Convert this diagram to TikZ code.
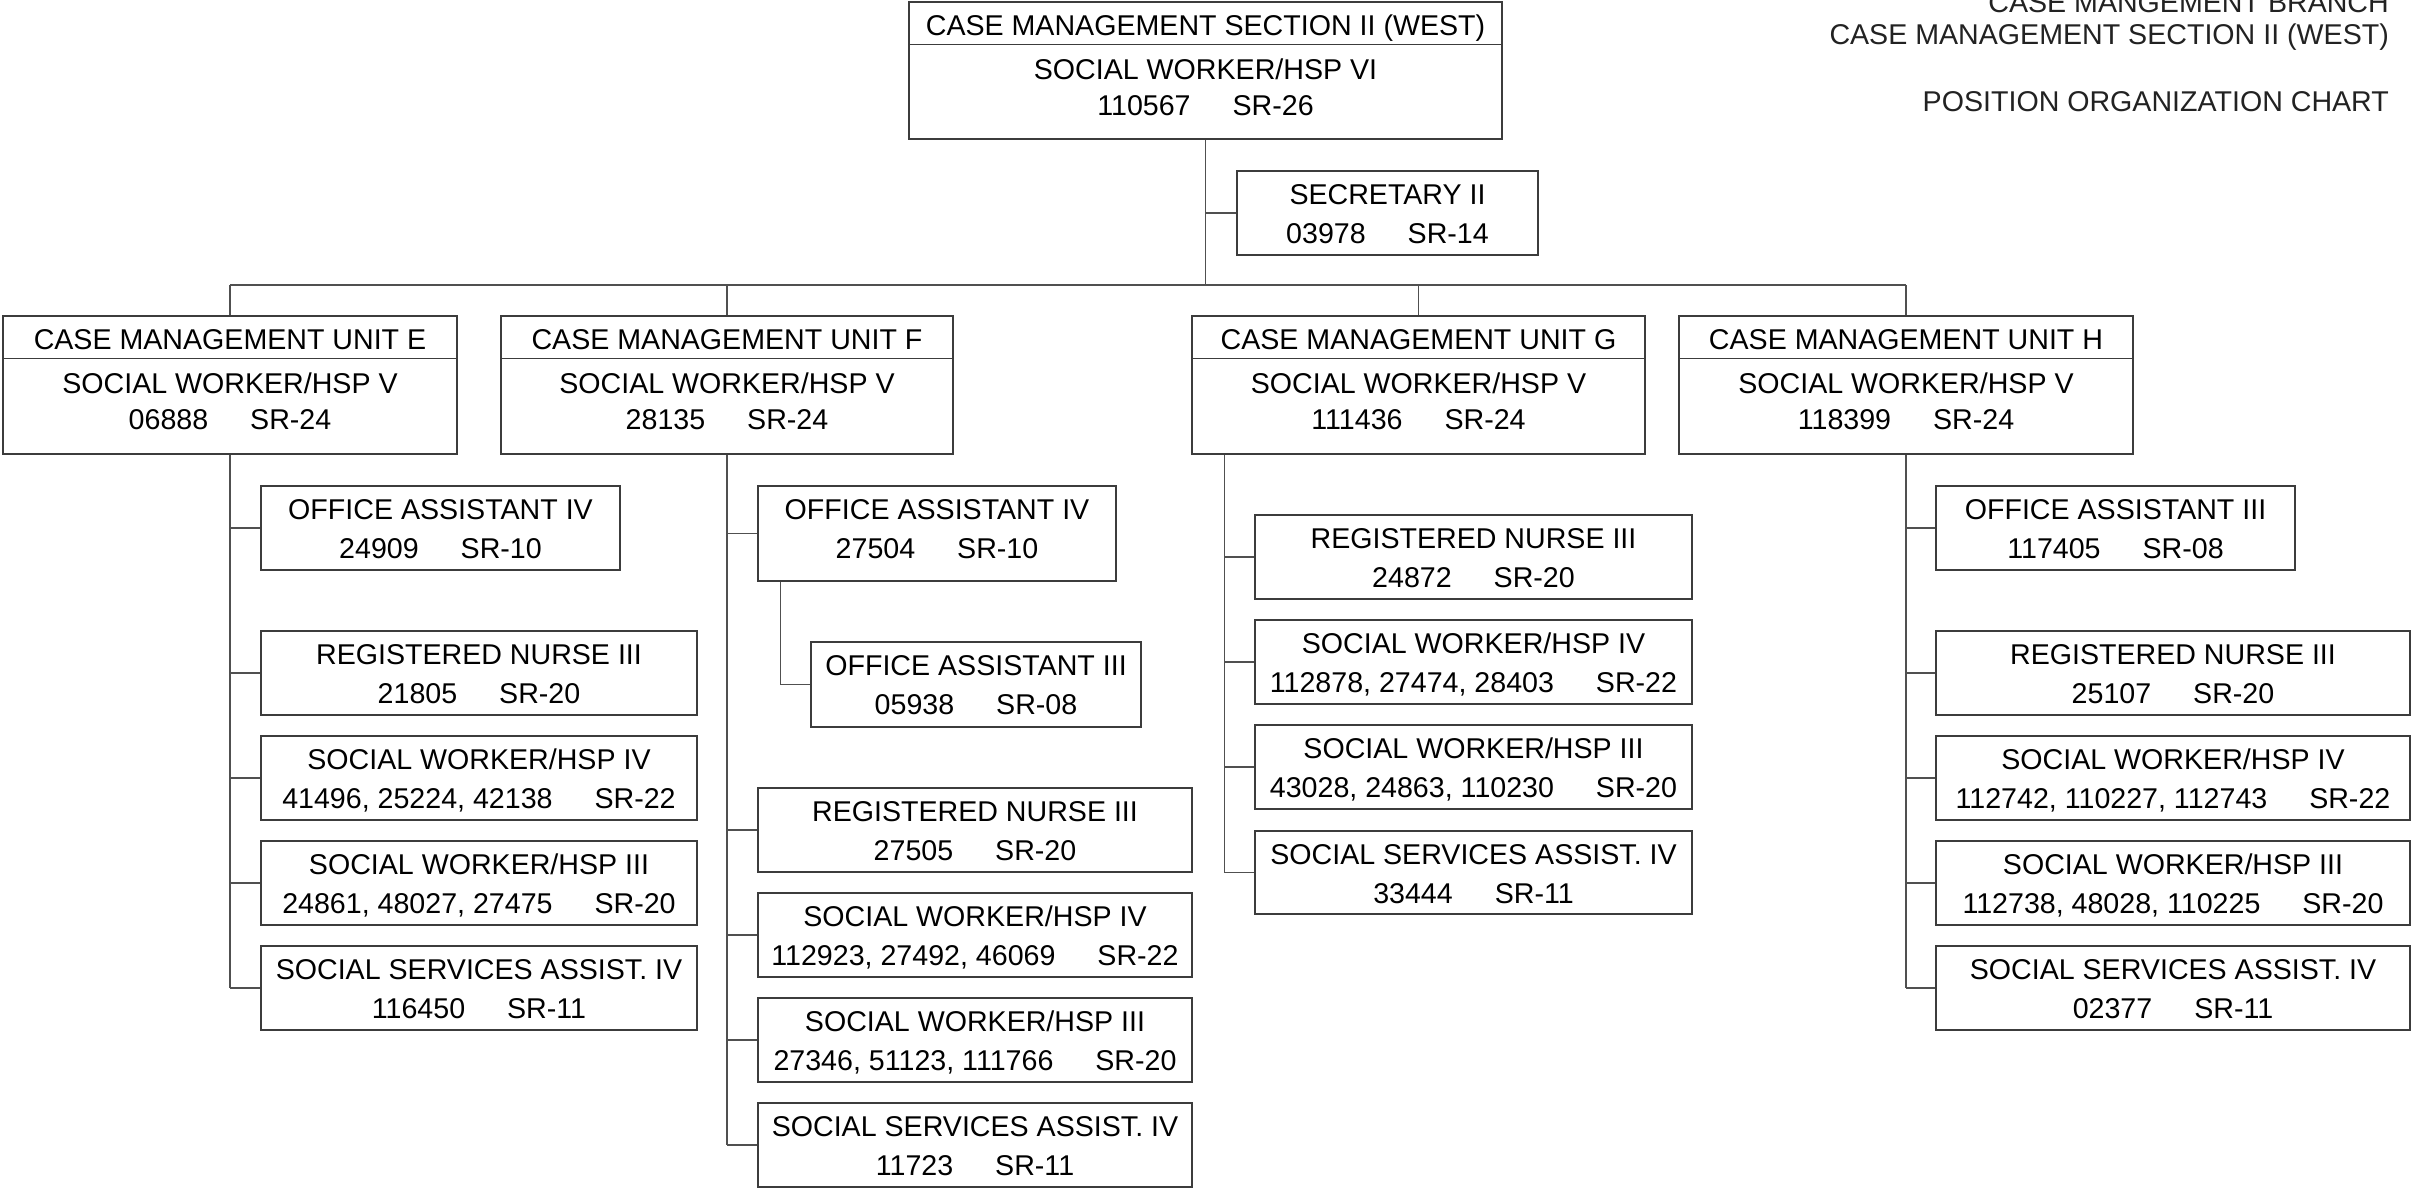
\documentclass[tikz,border=0pt]{standalone}
\usepackage{fontspec}
\setmainfont{Liberation Sans}
\usetikzlibrary{fit}
\definecolor{boxline}{HTML}{3C3C3C}
\definecolor{conline}{HTML}{505050}
\definecolor{titlegray}{HTML}{222222}
\newcommand\gap{\hspace{42pt}}
\tikzset{
  pbox/.style={draw=boxline, line width=1.4pt, inner sep=0pt},
  txt/.style={inner sep=0pt, text height=20.5pt, text depth=0pt, font=\fontsize{28.6}{34}\selectfont},
  conn/.style={draw=conline, line width=1.5pt},
  headtxt/.style={txt, anchor=east, text=titlegray},
}
\newcommand\twobox[5]{%
  \node[pbox, fit={#2 #3}] (#1) {};
  \node[txt] (#1-a) at ([yshift=-23.5pt]#1.north) {#4};
  \node[txt] (#1-b) at ([yshift=-62.5pt]#1.north) {#5};
}
\newcommand\threebox[6]{%
  \node[pbox, fit={#2 #3}] (#1) {};
  \draw[boxline, line width=1.4pt] ([yshift=-43pt]#1.north west) -- ([yshift=-43pt]#1.north east);
  \node[txt] (#1-a) at ([yshift=-23.5pt]#1.north) {#4};
  \node[txt] (#1-b) at ([yshift=-67.5pt]#1.north) {#5};
  \node[txt] (#1-c) at ([yshift=-103.5pt]#1.north) {#6};
}
\begin{document}
\begin{tikzpicture}[x=1pt, y=-1pt]
\useasboundingbox (0,0) rectangle (2411,1187);
\fill[white] (0,0) rectangle (2411,1187);

% title block
\node[headtxt] (hd1) at (2389,2) {CASE MANGEMENT BRANCH};
\node[headtxt] (hd2) at (2389,34) {CASE MANAGEMENT SECTION II (WEST)};
\node[headtxt] (hd3) at (2389,101) {POSITION ORGANIZATION CHART};

% top
\threebox{top}{(909,2)}{(1502,139)}{CASE MANAGEMENT SECTION II (WEST)}{SOCIAL WORKER/HSP VI}{110567\gap SR-26}
\twobox{sec}{(1237,171)}{(1538,255)}{SECRETARY II}{03978\gap SR-14}

% units
\threebox{ue}{(3,316)}{(457,454)}{CASE MANAGEMENT UNIT E}{SOCIAL WORKER/HSP V}{06888\gap SR-24}
\threebox{uf}{(501,316)}{(953,454)}{CASE MANAGEMENT UNIT F}{SOCIAL WORKER/HSP V}{28135\gap SR-24}
\threebox{ug}{(1192,316)}{(1645,454)}{CASE MANAGEMENT UNIT G}{SOCIAL WORKER/HSP V}{111436\gap SR-24}
\threebox{uh}{(1679,316)}{(2133,454)}{CASE MANAGEMENT UNIT H}{SOCIAL WORKER/HSP V}{118399\gap SR-24}

% unit E
\twobox{eoa}{(261,486)}{(620,570)}{OFFICE ASSISTANT IV}{24909\gap SR-10}
\twobox{ern}{(261,631)}{(697,715)}{REGISTERED NURSE III}{21805\gap SR-20}
\twobox{esw4}{(261,736)}{(697,820)}{SOCIAL WORKER/HSP IV}{41496, 25224, 42138\gap SR-22}
\twobox{esw3}{(261,841)}{(697,925)}{SOCIAL WORKER/HSP III}{24861, 48027, 27475\gap SR-20}
\twobox{essa}{(261,946)}{(697,1030)}{SOCIAL SERVICES ASSIST. IV}{116450\gap SR-11}

% unit F
\twobox{foa}{(758,486)}{(1116,581)}{OFFICE ASSISTANT IV}{27504\gap SR-10}
\twobox{foa3}{(811,642)}{(1141,727)}{OFFICE ASSISTANT III}{05938\gap SR-08}
\twobox{frn}{(758,788)}{(1192,872)}{REGISTERED NURSE III}{27505\gap SR-20}
\twobox{fsw4}{(758,893)}{(1192,977)}{SOCIAL WORKER/HSP IV}{112923, 27492, 46069\gap SR-22}
\twobox{fsw3}{(758,998)}{(1192,1082)}{SOCIAL WORKER/HSP III}{27346, 51123, 111766\gap SR-20}
\twobox{fssa}{(758,1103)}{(1192,1187)}{SOCIAL SERVICES ASSIST. IV}{11723\gap SR-11}

% unit G
\twobox{grn}{(1255,515)}{(1692,599)}{REGISTERED NURSE III}{24872\gap SR-20}
\twobox{gsw4}{(1255,620)}{(1692,704)}{SOCIAL WORKER/HSP IV}{112878, 27474, 28403\gap SR-22}
\twobox{gsw3}{(1255,725)}{(1692,809)}{SOCIAL WORKER/HSP III}{43028, 24863, 110230\gap SR-20}
\twobox{gssa}{(1255,831)}{(1692,914)}{SOCIAL SERVICES ASSIST. IV}{33444\gap SR-11}

% unit H
\twobox{hoa}{(1936,486)}{(2295,570)}{OFFICE ASSISTANT III}{117405\gap SR-08}
\twobox{hrn}{(1936,631)}{(2410,715)}{REGISTERED NURSE III}{25107\gap SR-20}
\twobox{hsw4}{(1936,736)}{(2410,820)}{SOCIAL WORKER/HSP IV}{112742, 110227, 112743\gap SR-22}
\twobox{hsw3}{(1936,841)}{(2410,925)}{SOCIAL WORKER/HSP III}{112738, 48028, 110225\gap SR-20}
\twobox{hssa}{(1936,946)}{(2410,1030)}{SOCIAL SERVICES ASSIST. IV}{02377\gap SR-11}

% connectors
\coordinate (bus) at (0,285);
\draw[conn] (top.south) -- (top.south |- bus);
\draw[conn] (top.south |- sec.west) -- (sec.west);
\draw[conn] (ue.north |- bus) -- (uh.north |- bus);
\foreach \u in {ue,uf,ug,uh} \draw[conn] (\u.north |- bus) -- (\u.north);

\draw[conn] (ue.south) -- (ue.south |- essa.west);
\foreach \c in {eoa,ern,esw4,esw3,essa} \draw[conn] (ue.south |- \c.west) -- (\c.west);

\draw[conn] (uf.south) -- (uf.south |- fssa.west);
\foreach \c in {foa,frn,fsw4,fsw3,fssa} \draw[conn] (uf.south |- \c.west) -- (\c.west);
\coordinate (fsub) at ([xshift=23pt]foa.south west);
\draw[conn] (fsub) -- (fsub |- foa3.west) -- (foa3.west);

\coordinate (gsp) at ([xshift=33pt]ug.south west);
\draw[conn] (gsp) -- (gsp |- gssa.west);
\foreach \c in {grn,gsw4,gsw3,gssa} \draw[conn] (gsp |- \c.west) -- (\c.west);

\draw[conn] (uh.south) -- (uh.south |- hssa.west);
\foreach \c in {hoa,hrn,hsw4,hsw3,hssa} \draw[conn] (uh.south |- \c.west) -- (\c.west);
\end{tikzpicture}
\end{document}
